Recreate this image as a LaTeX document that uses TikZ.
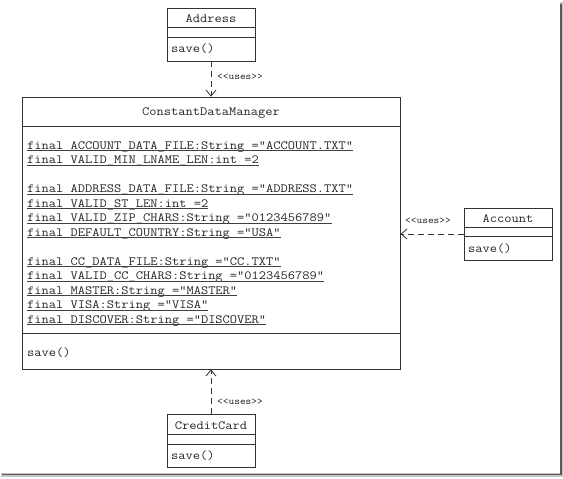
\documentclass[tikz,border=0pt]{standalone}
\usepackage{fontspec}
\setmonofont[FakeStretch=1.125]{Latin Modern Mono}
\usetikzlibrary{arrows.meta}
\tikzset{
  umlbox/.style={draw=black!80, line width=0.8pt, inner sep=0pt, fill=white},
  txt/.style={font=\fontsize{12.5}{14}\ttfamily, text=black!85, inner sep=0pt},
  attr/.style={txt, anchor=base west},
  uline/.style={draw=black!75, line width=0.7pt},
  divline/.style={draw=black!80, line width=0.8pt},
  uses/.style={draw=black!80, line width=0.8pt, dash pattern=on 6pt off 4pt,
     -{Straight Barb[length=6pt,width=10pt,line width=0.8pt]}},
  lbl/.style={font=\fontsize{9.7}{11}\ttfamily, text=black!85, inner sep=0pt}
}
\begin{document}
\begin{tikzpicture}[x=1pt,y=-1pt]
\fill[white] (0,0) rectangle (563,479);
\useasboundingbox (0,0) rectangle (563,479);
% frame shadow
\fill[gray!45] (559.5,2) rectangle (563,477);
\fill[gray!45] (1,472.5) rectangle (563,477);
\draw[black!65, line width=1.2pt] (561,4) -- (561,474.8) -- (2,474.8);

% Address
\node[umlbox, minimum width=88pt, minimum height=53pt] (address) at (211,34.5) {};
\draw[divline] ([yshift=-20pt]address.north west) -- ([yshift=-20pt]address.north east);
\draw[divline] ([yshift=-30pt]address.north west) -- ([yshift=-30pt]address.north east);
\node[txt] (addresstitle) at (211,19) {Address};
\node[attr] (addresssave) at (171,52.5) {save()};

% ConstantDataManager
\node[umlbox, minimum width=378pt, minimum height=272pt] (cdm) at (211,233) {};
\draw[divline] ([yshift=-30pt]cdm.north west) -- ([yshift=-30pt]cdm.north east);
\draw[divline] ([yshift=-237pt]cdm.north west) -- ([yshift=-237pt]cdm.north east);
\node[txt] (cdmtitle) at (211,113) {ConstantDataManager};
\foreach \y/\t [count=\i] in {
  145/{final ACCOUNT\_DATA\_FILE:String ="ACCOUNT.TXT"},
  159.5/{final VALID\_MIN\_LNAME\_LEN:int =2},
  188.5/{final ADDRESS\_DATA\_FILE:String ="ADDRESS.TXT"},
  203/{final VALID\_ST\_LEN:int =2},
  217.5/{final VALID\_ZIP\_CHARS:String ="0123456789"},
  232/{final DEFAULT\_COUNTRY:String ="USA"},
  261/{final CC\_DATA\_FILE:String ="CC.TXT"},
  275.5/{final VALID\_CC\_CHARS:String ="0123456789"},
  290/{final MASTER:String ="MASTER"},
  304.5/{final VISA:String ="VISA"},
  319/{final DISCOVER:String ="DISCOVER"}}{
  \node[attr] (a\i) at (27,\y+4) {\t};
  \draw[uline] ([yshift=-1.8pt]a\i.base west) -- ([yshift=-1.8pt]a\i.base east);
}
\node[attr] (cdmsave) at (27,356) {save()};

% Account
\node[umlbox, minimum width=88pt, minimum height=52pt] (account) at (508,234) {};
\draw[divline] ([yshift=-20pt]account.north west) -- ([yshift=-20pt]account.north east);
\draw[divline] ([yshift=-29pt]account.north west) -- ([yshift=-29pt]account.north east);
\node[txt] (accounttitle) at (508,219) {Account};
\node[attr] (accountsave) at (468,252) {save()};

% CreditCard
\node[umlbox, minimum width=88pt, minimum height=53pt] (creditcard) at (211,441) {};
\draw[divline] ([yshift=-20pt]creditcard.north west) -- ([yshift=-20pt]creditcard.north east);
\draw[divline] ([yshift=-30pt]creditcard.north west) -- ([yshift=-30pt]creditcard.north east);
\node[txt] (cctitle) at (211,426) {CreditCard};
\node[attr] (ccsave) at (171,459.5) {save()};

% dependencies
\draw[uses] (address.south) -- (cdm.north);
\node[lbl] (l1) at (240,77) {<{}<uses>{}>};
\draw[uses] (account.west) -- (cdm.east |- account.west);
\node[lbl] (l2) at (428,221) {<{}<uses>{}>};
\draw[uses] (creditcard.north) -- (cdm.south);
\node[lbl] (l3) at (240,402) {<{}<uses>{}>};
\end{tikzpicture}
\end{document}
